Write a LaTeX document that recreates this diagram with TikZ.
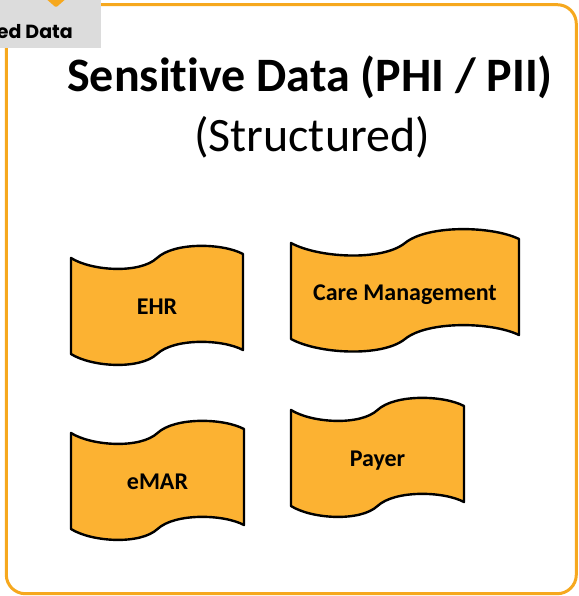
\documentclass[tikz,border=0pt]{standalone}
\usepackage{fontspec}
\setmainfont{Carlito}[Ligatures=NoCommon]
\newfontfamily\popfont{Poppins}
\definecolor{frameorange}{RGB}{246,168,30}
\definecolor{tapefill}{RGB}{252,178,50}
\definecolor{tabgray}{RGB}{220,220,220}
\tikzset{
  tapeshape/.style={fill=tapefill, draw=black, line width=2.4pt, line join=round},
  tapelabel/.style={anchor=base, inner sep=0pt, font=\fontsize{24}{28}\selectfont\bfseries},
}
% #1 left x, #2 width, #3 top-left y, #4 bend factor, #5 height
\newcommand\tapepath[5]{%
 \filldraw[tapeshape] (#1,#3)
  .. controls ({#1+0.12*#2},{#3+13*#4}) and ({#1+0.40*#2},{#3+16*#4}) .. ({#1+0.5*#2},{#3})
  .. controls ({#1+0.60*#2},{#3-16*#4}) and ({#1+0.88*#2},{#3-15*#4}) .. ({#1+#2},{#3-4})
  -- ({#1+#2},{#3-4+#5})
  .. controls ({#1+0.88*#2},{#3-15*#4+#5}) and ({#1+0.60*#2},{#3-16*#4+#5}) .. ({#1+0.5*#2},{#3+#5})
  .. controls ({#1+0.40*#2},{#3+16*#4+#5}) and ({#1+0.12*#2},{#3+13*#4+#5}) .. ({#1},{#3+#5})
  -- cycle;}
\begin{document}
\begin{tikzpicture}[x=1pt,y=-1pt]
\useasboundingbox (0,0) rectangle (578,596);
\fill[white] (0,0) rectangle (578,596);
% frame
\draw[frameorange, line width=3pt, rounded corners=19pt] (6.3,4.7) rectangle (576.3,593.7);
% tab
\fill[tabgray] (0,0) rectangle (100.5,48);
\fill[frameorange, rounded corners=1.5pt] (44,-3) -- (68,-3) -- (56,7.5) -- cycle;
\node[anchor=base east, inner sep=0pt, font=\popfont\bfseries\fontsize{19}{22}\selectfont] (tab) at (73,39) {ed Data};
% titles
\node[anchor=base, inner sep=0pt, font=\fontsize{48}{54}\selectfont\bfseries] (title) at (310,92) {Sensitive Data (PHI / PII)};
\node[anchor=base, inner sep=0pt, font=\fontsize{48}{54}\selectfont] (subtitle) at (312,152) {(Structured)};
% tapes
\tapepath{71}{172}{258}{1}{96}
\node[tapelabel] (ehr) at (157,314) {EHR};
\tapepath{291}{228}{243}{1.15}{96}
\node[tapelabel] (care) at (405,300) {Care Management};
\tapepath{71}{173}{433}{1}{96}
\node[tapelabel] (emar) at (157.5,489) {eMAR};
\tapepath{291}{173}{410}{1}{96}
\node[tapelabel] (payer) at (377.5,466) {Payer};
\end{tikzpicture}
\end{document}
